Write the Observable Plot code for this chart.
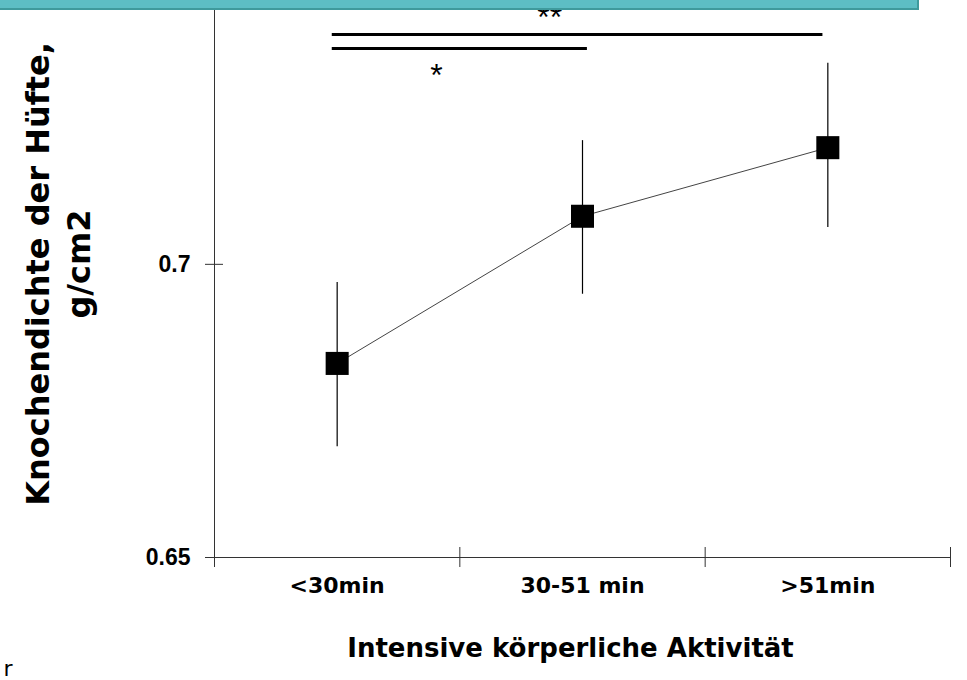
<!DOCTYPE html>
<html>
<head>
<meta charset="utf-8">
<script src="https://cdn.jsdelivr.net/npm/d3@7"></script>
<script src="https://cdn.jsdelivr.net/npm/@observablehq/plot@0.6"></script>
<style>
  html, body { margin: 0; padding: 0; background: #fff; }
  #wrap { position: relative; width: 967px; height: 680px; overflow: hidden; }
  #band { position: absolute; left: 0; top: 0; width: 917px; height: 8px;
          background: #5dbec4; border-bottom: 2px solid #3f9a9c; border-right: 2px solid #3f9a9c; }
</style>
</head>
<body>
<div id="wrap"><div id="band"></div></div>
<script>
// ---- data ----
const categories = ["<30min", "30-51 min", ">51min"];
const means = [0.6831, 0.7082, 0.7199];
const lower = [0.6689, 0.6949, 0.7063];
const upper = [0.6969, 0.7211, 0.7343];
const yTicks = [0.65, 0.7];
const yTickLabels = ["0.65", "0.7"];
const xBoundaries = [-0.5, 0.5, 1.5, 2.5];
const bracketStart = [-0.02, -0.02];
const bracketEnd = [1.98, 1.02];
const bracketY = [0.7392, 0.7368];
const starLabels = ["**", "*"];
const starX = [0.866, 0.405];
const starY = [0.7403, 0.7305];
const xTitle = "Intensive körperliche Aktivität";
const yTitle1 = "Knochendichte der Hüfte,";
const yTitle2 = "g/cm2";

const idx = categories.map((_, i) => i);
const rows = idx.map(i => ({i, cat: categories[i], mean: means[i], lo: lower[i], hi: upper[i]}));
const brackets = bracketY.map((y, k) => ({x1: bracketStart[k], x2: bracketEnd[k], y}));
const stars = starLabels.map((t, k) => ({t, x: starX[k], y: starY[k]}));

const verdana = "DejaVu Sans, Verdana, sans-serif";
const arial = "Liberation Sans, Arial, sans-serif";

const chart = Plot.plot({
  width: 967,
  height: 680,
  marginLeft: 214,
  marginRight: 17,
  marginTop: 0,
  marginBottom: 123,
  style: {background: "transparent", overflow: "visible"},
  x: {type: "linear", domain: [-0.5, 2.5], axis: null},
  y: {type: "linear", domain: [0.65, 0.745], axis: null},
  marks: [
    // axis lines
    Plot.ruleX([-0.5], {stroke: "#333", strokeWidth: 1}),
    Plot.ruleY([0.65], {stroke: "#333", strokeWidth: 1}),
    // y ticks (crossing)
    Plot.axisY({ticks: yTicks, tickSize: 18, dx: 9, tickFormat: () => "", stroke: "#333"}),
    Plot.axisY({ticks: yTicks, tickSize: 0, tickPadding: 24, tickFormat: (d) => yTickLabels[yTicks.indexOf(d)],
                fontSize: 23, fontWeight: "bold", fontFamily: arial, fill: "#000"}),
    // x ticks (crossing)
    Plot.axisX({ticks: xBoundaries, tickSize: 20, dy: -10, tickFormat: () => "", stroke: "#333"}),
    // category labels
    Plot.text(rows, {x: "i", text: "cat", frameAnchor: "bottom", dy: 28, lineAnchor: "middle",
                     fontSize: 22, fontWeight: "bold", fontFamily: verdana, fill: "#000"}),
    // significance brackets
    Plot.ruleY(brackets, {x1: "x1", x2: "x2", y: "y", stroke: "#000", strokeWidth: 3}),
    Plot.text(stars, {x: "x", y: "y", text: "t", lineAnchor: "bottom", fontSize: 32, fontFamily: arial, fill: "#000"}),
    // data
    Plot.line(rows, {x: "i", y: "mean", stroke: "#444", strokeWidth: 1}),
    Plot.ruleX(rows, {x: "i", y1: "lo", y2: "hi", stroke: "#000", strokeWidth: 1.2}),
    Plot.dot(rows, {x: "i", y: "mean", symbol: "square", r: 13, fill: "#000", stroke: null}),
    // titles
    Plot.text([xTitle], {frameAnchor: "bottom", dx: -12, dy: 91, lineAnchor: "middle",
                         fontSize: 26, fontWeight: "bold", fontFamily: verdana, fill: "#000"}),
    Plot.text([yTitle1], {frameAnchor: "left", textAnchor: "middle", rotate: -90, dx: -176, dy: -5, lineAnchor: "middle",
                          fontSize: 32, fontWeight: "bold", fontFamily: verdana, fill: "#000"}),
    Plot.text([yTitle2], {frameAnchor: "left", textAnchor: "middle", rotate: -90, dx: -135, dy: -15, lineAnchor: "middle",
                          fontSize: 32, fontWeight: "bold", fontFamily: verdana, fill: "#000"}),
    Plot.text(["r"], {frameAnchor: "bottom-left", dx: -211, dy: 118, textAnchor: "start", lineAnchor: "bottom",
                      fontSize: 22, fontFamily: verdana, fill: "#000"})
  ]
});
const wrap = document.getElementById("wrap");
wrap.insertBefore(chart, wrap.firstChild);
</script>
</body>
</html>
